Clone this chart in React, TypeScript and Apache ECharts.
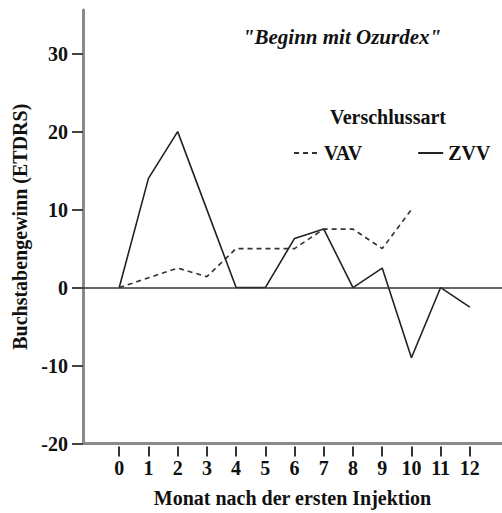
import React, { useEffect, useRef } from "react";
import * as echarts from "echarts";

const months = [0, 1, 2, 3, 4, 5, 6, 7, 8, 9, 10, 11, 12];
const vavValues = [0, 1.25, 2.5, 1.4, 5, 5, 5, 7.5, 7.5, 5, 10];
const zvvValues = [0, 14, 20, 10, 0, 0, 6.3, 7.5, 0, 2.5, -9, 0, -2.5];
const yTicks = [-20, -10, 0, 10, 20, 30];
const seriesNames = ["VAV", "ZVV"];

const FONT = "'Liberation Serif', 'Times New Roman', serif";

export default function App() {
  const ref = useRef<HTMLDivElement>(null);
  useEffect(() => {
    if (!ref.current) return;
    const chart = echarts.init(ref.current, null, { renderer: "svg" });
    const xCommon = {
      type: "value",
      min: -1.24,
      max: 13.1,
      splitLine: { show: false },
    };
    chart.setOption({
      animation: false,
      backgroundColor: "#ffffff",
      grid: { left: 83, right: 0, top: 10, bottom: 69.5 },
      graphic: [
        {
          type: "text",
          x: 342,
          y: 37,
          style: {
            text: '"Beginn mit Ozurdex"',
            font: `italic bold 21px ${FONT}`,
            fill: "#111",
            align: "center",
            verticalAlign: "middle",
          },
        },
        {
          type: "text",
          x: 388,
          y: 117,
          style: {
            text: "Verschlussart",
            font: `bold 20px ${FONT}`,
            fill: "#111",
            align: "center",
            verticalAlign: "middle",
          },
        },
      ],
      legend: {
        data: seriesNames,
        left: 288,
        top: 138,
        itemWidth: 25,
        itemHeight: 14,
        itemGap: 55,
        itemStyle: { opacity: 0, borderWidth: 0 },
        textStyle: { fontFamily: FONT, fontWeight: "bold", fontSize: 20, color: "#111" },
      },
      xAxis: [
        {
          ...xCommon,
          axisLine: { show: true, onZero: false, lineStyle: { color: "#8a8a8a", width: 3 } },
          axisTick: { show: false },
          axisLabel: { show: false },
          name: "Monat nach der ersten Injektion",
          nameLocation: "middle",
          nameGap: 44,
          nameTextStyle: { fontFamily: FONT, fontWeight: "bold", fontSize: 20, color: "#111" },
        },
        {
          ...xCommon,
          position: "bottom",
          offset: 3,
          axisLine: { show: false, onZero: false },
          axisTick: {
            show: true,
            length: 10,
            customValues: months,
            lineStyle: { color: "#333", width: 2 },
          },
          axisLabel: {
            show: true,
            customValues: months,
            margin: 11.5,
            fontFamily: FONT,
            fontWeight: "bold",
            fontSize: 20,
            color: "#111",
          },
        },
      ],
      yAxis: {
        type: "value",
        min: -20,
        max: 35.6,
        splitLine: { show: false },
        axisLine: { show: true, onZero: false, lineStyle: { color: "#8a8a8a", width: 3 } },
        axisTick: {
          show: true,
          length: 11,
          customValues: yTicks,
          lineStyle: { color: "#444", width: 2 },
        },
        axisLabel: {
          customValues: yTicks,
          margin: 15,
          fontFamily: FONT,
          fontWeight: "bold",
          fontSize: 20,
          color: "#111",
        },
        name: "Buchstabengewinn (ETDRS)",
        nameLocation: "middle",
        nameRotate: 90,
        nameGap: 52,
        nameTextStyle: { fontFamily: FONT, fontWeight: "bold", fontSize: 20, color: "#111" },
      },
      series: [
        {
          name: "VAV",
          type: "line",
          xAxisIndex: 0,
          symbol: "none",
          data: vavValues.map((v, i) => [months[i], v]),
          lineStyle: { color: "#333", width: 1.6, type: [5, 4] },
          itemStyle: { color: "#333" },
        },
        {
          name: "ZVV",
          type: "line",
          xAxisIndex: 0,
          symbol: "none",
          data: zvvValues.map((v, i) => [months[i], v]),
          lineStyle: { color: "#222", width: 1.6, type: "solid" },
          itemStyle: { color: "#222" },
          markLine: {
            silent: true,
            symbol: "none",
            label: { show: false },
            lineStyle: { color: "#333", width: 1.5, type: "solid" },
            data: [{ yAxis: 0 }],
          },
        },
      ],
    });
    return () => chart.dispose();
  }, []);
  return (
    <div
      ref={ref}
      style={{ position: "absolute", left: 0, top: 0, width: 502, height: 513 }}
    />
  );
}
